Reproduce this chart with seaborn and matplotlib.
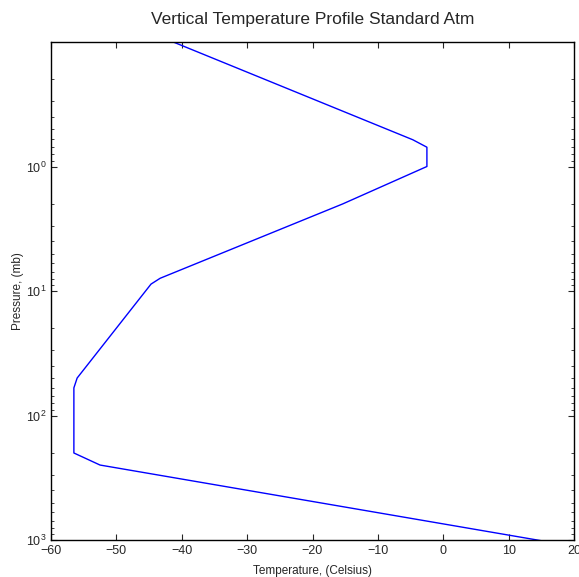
import pandas as pd
import seaborn as sns
import matplotlib.pyplot as plt

# standard atmosphere profile (surface -> upward)
pressure_mb = [1013.25, 250, 200, 60, 50, 8.8, 7.9, 2.0, 1.0, 0.70, 0.61, 0.1]
temp_c = [15.0, -52.5, -56.5, -56.5, -56.0, -44.7, -43.3, -15.4, -2.5, -2.5, -4.65, -41.3]
x_ticks = [-60, -50, -40, -30, -20, -10, 0, 10, 20]
y_ticks = [1, 10, 100, 1000]

df = pd.DataFrame({"Temperature": temp_c, "Pressure": pressure_mb})

sns.set_style("ticks", {"xtick.direction": "in", "ytick.direction": "in"})
plt.rcParams["font.family"] = ["Liberation Sans", "DejaVu Sans"]

fig = plt.figure(figsize=(5.79, 5.77), dpi=100)
ax = fig.add_axes([51 / 579, 1 - 540 / 577, 523 / 579, 498 / 577])

sns.lineplot(data=df, x="Temperature", y="Pressure", sort=False, estimator=None,
             color="#0000ff", linewidth=1.0, ax=ax)

ax.set_yscale("log")
ax.set_ylim(1000, 0.1)
ax.set_xlim(-60, 20)
ax.set_xticks(x_ticks)
ax.set_yticks(y_ticks)
ax.set_xticklabels([f"\u2212{abs(v)}" if v < 0 else str(v) for v in x_ticks])

for side in ["top", "right", "left", "bottom"]:
    ax.spines[side].set_visible(True)
    ax.spines[side].set_linewidth(1.0)
    ax.spines[side].set_color("black")

ax.tick_params(which="both", direction="in", top=True, right=True, labelsize=9)
ax.tick_params(which="major", length=4)
ax.tick_params(which="minor", length=2)

ax.set_xlabel("Temperature, (Celsius)", fontsize=8.5, labelpad=6)
ax.set_ylabel("Pressure, (mb)", fontsize=8.5, labelpad=1)
ax.set_title("Vertical Temperature Profile Standard Atm", fontsize=12.5, pad=13)

fig.savefig("out.png", dpi=100)
